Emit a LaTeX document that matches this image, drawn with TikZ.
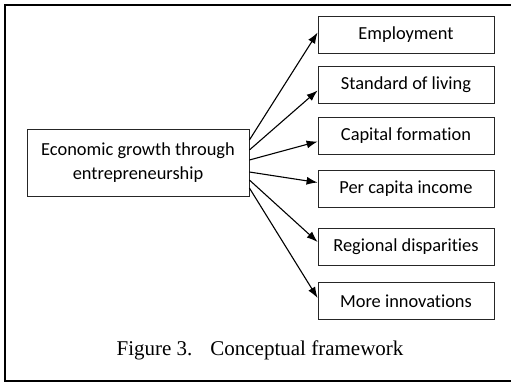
\documentclass[tikz,border=0pt]{standalone}
\usepackage{fontspec}
\setmainfont{Carlito}[Ligatures=NoCommon]
\newfontfamily\capfont{Liberation Serif}
\usetikzlibrary{arrows.meta, positioning}

\begin{document}
\begin{tikzpicture}[x=1pt, y=-1pt, every node/.style={font=\fontsize{18.4}{24}\selectfont},
  box/.style={draw=black!85, rectangle, line width=0.8pt, minimum width=176pt, minimum height=37pt, inner sep=0pt},
  link/.style={-{Latex[length=11pt,width=8pt]}, line width=1.1pt}]
\useasboundingbox (0,0) rectangle (511,383);
% Frame
\draw[line width=1.6pt] (511,5) -- (5,5) -- (5,381) -- (511,381);

% Framework
\node[draw=black!85, rectangle, line width=0.8pt, minimum width=222pt, minimum height=67pt, align=center] (growth) at (138,162.5) {Economic growth through\\entrepreneurship};

\node[box] (employ) at (406,34.5) {Employment};
\node[box] (living) at (406,85) {Standard of living};
\node[box] (capital) at (406,135.5) {Capital formation};
\node[box] (income) at (406,188.5) {Per capita income};
\node[box] (region) at (406,247) {Regional disparities};
\node[box] (innov) at (406,301) {More innovations\hspace{9pt}};

\node[font=\capfont\fontsize{21}{25}\selectfont, anchor=base] (caption) at (260,355) {Figure 3.\hspace{18pt}Conceptual framework};

\draw[link] ([yshift=22.5pt]growth.east) -- ([yshift=2pt]employ.west);
\draw[link] ([yshift=12.5pt]growth.east) -- ([yshift=-5.5pt]living.west);
\draw[link] ([yshift=2.5pt]growth.east) -- ([yshift=-6pt]capital.west);
\draw[link] ([yshift=-9.5pt]growth.east) -- ([yshift=6pt]income.west);
\draw[link] ([yshift=-17.5pt]growth.east) -- ([yshift=5pt]region.west);
\draw[link] ([yshift=-25.5pt]growth.east) -- ([yshift=3pt]innov.west);
\end{tikzpicture}
\end{document}
